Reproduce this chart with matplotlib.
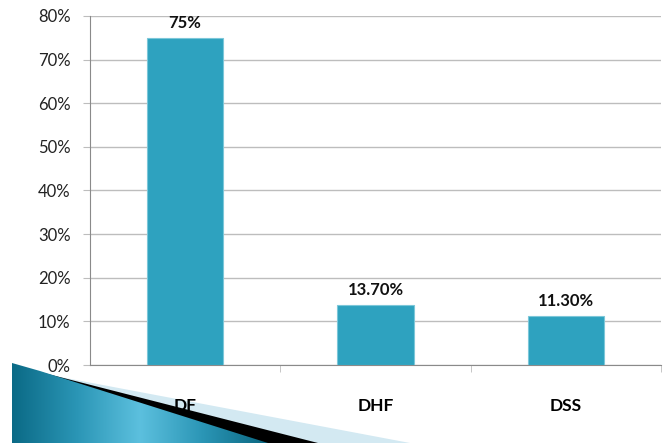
import matplotlib
matplotlib.use("Agg")
import matplotlib.pyplot as plt
import numpy as np
from matplotlib.patches import Polygon
from matplotlib.ticker import FixedLocator, PercentFormatter
from matplotlib.colors import LinearSegmentedColormap

categories = ["DF", "DHF", "DSS"]
values = [75.0, 13.7, 11.3]
value_labels = ["75%", "13.70%", "11.30%"]
yticks = [0, 10, 20, 30, 40, 50, 60, 70, 80]

plt.rcParams['font.family'] = ['Lato', 'DejaVu Sans']

W, H = 665, 443
fig = plt.figure(figsize=(W/100, H/100), dpi=100)

# decorative shape bottom-left (drawn beneath the chart)
deco = fig.add_axes([0, 0, 1, 1], zorder=0)
deco.set_xlim(0, W)
deco.set_ylim(H, 0)
deco.axis('off')
deco.patch.set_alpha(0)
light = Polygon([(55, 376), (410, 443), (300, 443)], closed=True, color="#d3e9f2", lw=0)
deco.add_patch(light)
black = Polygon([(40, 372), (318, 443), (250, 443)], closed=True, color="#000000", lw=0)
deco.add_patch(black)
blue_pts = [(12, 363), (40, 371), (268, 443), (12, 443)]
blue = Polygon(blue_pts, closed=True, facecolor='none', lw=0)
deco.add_patch(blue)
grad = np.linspace(0, 1, 256)
cmap = LinearSegmentedColormap.from_list("g", ["#0b6a86", "#2a95b5", "#5cc0de", "#2a95b5", "#0a6680"])
img = deco.imshow(np.tile(grad, (10, 1)), cmap=cmap, extent=(12, 268, 443, 363),
                  aspect='auto', zorder=2)
img.set_clip_path(blue)

ax = fig.add_axes([90/W, (H-365)/H, (661-90)/W, (365-16)/H], zorder=1)
ax.patch.set_alpha(0)

x = np.arange(len(categories))
bar_color = "#2ea2bf"
ax.bar(x, values, width=0.4, color=bar_color, edgecolor="#7cc7d9", linewidth=0.8, zorder=3)
ax.set_xlim(-0.5, len(categories)-0.5)
ax.set_ylim(0, 80)
ax.set_yticks(yticks)
ax.yaxis.set_major_formatter(PercentFormatter(decimals=0))
ax.grid(axis='y', color="#bdbdbd", linewidth=1, zorder=0)
for s in ["top", "right"]:
    ax.spines[s].set_visible(False)
ax.spines["left"].set_color("#8a8a8a")
ax.spines["bottom"].set_color("#8a8a8a")
ax.tick_params(axis='y', length=5, color="#bdbdbd", labelsize=12, pad=9, labelcolor="#222222")
ax.set_xticks(x)
ax.set_xticklabels(categories, fontsize=12.5, fontweight='bold')
ax.tick_params(axis='x', length=0, pad=24)
ax.xaxis.set_minor_locator(FixedLocator([0.5, 1.5, 2.5]))
ax.tick_params(axis='x', which='minor', length=5, color="#bdbdbd")

for xi, v, lab in zip(x, values, value_labels):
    ax.annotate(lab, (xi, v), xytext=(0, 5), textcoords="offset points",
                ha='center', va='bottom', fontsize=12, fontweight='bold', color="#111111")

fig.savefig("out.png", dpi=100)
